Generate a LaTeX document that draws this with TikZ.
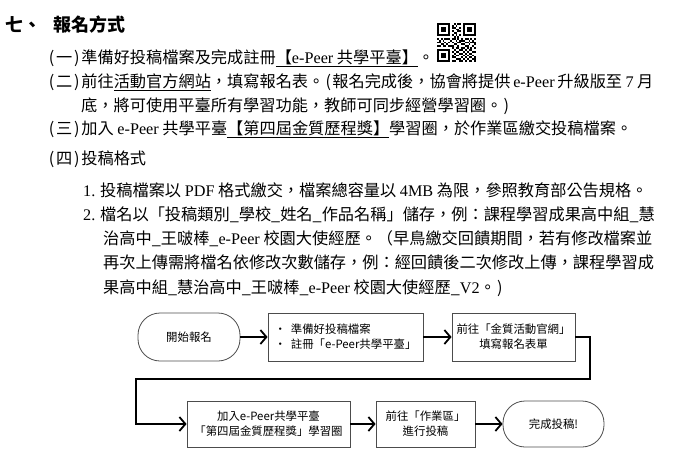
\documentclass[tikz,border=0pt]{standalone}
\usepackage{fontspec}
\setmainfont{Liberation Serif}
\newfontfamily\cjk{Noto Sans CJK TC}
\usetikzlibrary{arrows.meta}
\newcommand\lat[1]{{\rmfamily #1}}
\newcommand\myul[1]{\underline{#1}}
\newcommand\paren[1]{\makebox[9pt][c]{(}#1\makebox[9pt][c]{)}}
\begin{document}
\begin{tikzpicture}[x=1pt,y=-1pt,
  body/.style={anchor=base west,inner sep=0pt,font=\cjk\fontsize{16.2}{18}\selectfont},
  head/.style={anchor=base west,inner sep=0pt,font=\cjk\bfseries\fontsize{18}{20}\selectfont},
  box/.style={draw=black!70,line width=0.8pt,minimum height=48pt,inner sep=2pt,
              font=\cjk\fontsize{11.4}{15}\selectfont,align=center},
  term/.style={box,rounded corners=22pt},
  conn/.style={line width=1.8pt,-{Straight Barb[length=6pt,width=14pt]}},
  qr/.style={fill=black}]
\useasboundingbox (0,0) rectangle (673,466);

% heading
\node[head] (h1) at (5,31) {七、};
\node[head] (h2) at (53,31) {報名方式};

% QR code
\def\qm{1.86}
\foreach \r/\cols in {
 0/{0,1,2,3,4,5,6,9,11,12,14,15,16,17,18,19,20},
 1/{0,6,8,10,14,20},
 2/{0,2,3,4,6,8,9,12,14,16,17,18,20},
 3/{0,2,3,4,6,10,11,14,16,17,18,20},
 4/{0,2,3,4,6,8,11,12,14,16,17,18,20},
 5/{0,6,9,10,14,20},
 6/{0,1,2,3,4,5,6,8,10,12,14,15,16,17,18,19,20},
 7/{9,11},
 8/{0,2,4,5,6,8,9,11,13,15,16,18,20},
 9/{1,3,7,10,12,13,14,17,19},
 10/{0,1,4,6,8,11,12,15,16,18,19,20},
 11/{2,3,5,9,10,13,14,17,20},
 12/{0,1,3,4,6,7,8,11,15,16,19},
 13/{8,10,11,13,14,16,18,20},
 14/{0,1,2,3,4,5,6,9,12,13,15,17,18},
 15/{0,6,8,10,11,14,16,19,20},
 16/{0,2,3,4,6,9,12,13,15,17,18},
 17/{0,2,3,4,6,8,10,11,14,16,19},
 18/{0,2,3,4,6,8,9,13,15,17,18,20},
 19/{0,6,10,11,12,14,16,19,20},
 20/{0,1,2,3,4,5,6,8,9,12,13,15,17,18,20}}
 { \foreach \c in \cols { \fill[qr] ({437+\c*\qm},{23+\r*\qm}) rectangle ++(\qm,\qm); } }

% body text
\node[body] (l1) at (47,63) {\paren{一}準備好投稿檔案及完成註冊\myul{【\lat{e-Peer} 共學平臺】}。};
\node[body] (l2) at (47,87) {\paren{二}前往\myul{活動官方網站}，填寫報名表。\makebox[8pt][c]{(}報名完成後，協會將提供\lat{\,e-Peer\,}升級版至\makebox[15pt][c]{\lat{7}}月};
\node[body] (l3) at (81,111) {底，將可使用平臺所有學習功能，教師可同步經營學習圈。\makebox[8pt][c]{)}};
\node[body] (l4) at (47,134) {\paren{三}加入 \lat{e-Peer} 共學平臺\myul{【第四屆金質歷程獎】}學習圈，於作業區繳交投稿檔案。};
\node[body] (l5) at (47,164) {\paren{四}投稿格式};
\node[body] (l6) at (83,196) {\lat{1.} 投稿檔案以 \lat{PDF} 格式繳交，檔案總容量以 \lat{4MB} 為限，參照教育部公告規格。};
\node[body] (l7) at (83,220) {\lat{2.} 檔名以「投稿類別\_學校\_姓名\_作品名稱」儲存，例：課程學習成果高中組\_慧};
\node[body] (l8) at (103,244) {治高中\_王啵棒\_\lat{e-Peer} 校園大使經歷。（早鳥繳交回饋期間，若有修改檔案並};
\node[body] (l9) at (103,268) {再次上傳需將檔名依修改次數儲存，例：經回饋後二次修改上傳，課程學習成};
\node[body] (l10) at (103,293) {果高中組\_慧治高中\_王啵棒\_\lat{e-Peer} 校園大使經歷\_\lat{V2}。\makebox[8pt][c]{)}};

% flowchart
\node[term,minimum width=102pt] (s) at (189,337) {開始報名};
\node[box,minimum width=155pt,align=left] (b2) at (345.5,337) {・\hspace{5pt}準備好投稿檔案\\・\hspace{5pt}註冊「e-Peer共學平臺」};
\node[box,minimum width=123pt] (b3) at (513.5,337) {前往「金質活動官網」\\填寫報名表單};
\node[box,minimum width=163pt,minimum height=46pt] (b4) at (268.5,424) {加入e-Peer共學平臺\\「第四屆金質歷程獎」學習圈};
\node[box,minimum width=99pt,minimum height=46pt] (b5) at (425.5,424) {前往「作業區」\\進行投稿};
\node[term,minimum width=101pt,minimum height=46pt] (e) at (553.5,424) {完成投稿!};

\coordinate (t1) at (590,379);
\coordinate (t2) at (136,379);

\draw[conn] (s) -- (b2);
\draw[conn] (b2) -- (b3);
\draw[conn] (b3.east) -| (t1) -- (t2) |- (b4.west);
\draw[conn] (b4) -- (b5);
\draw[conn] (b5) -- (e);
\end{tikzpicture}
\end{document}
